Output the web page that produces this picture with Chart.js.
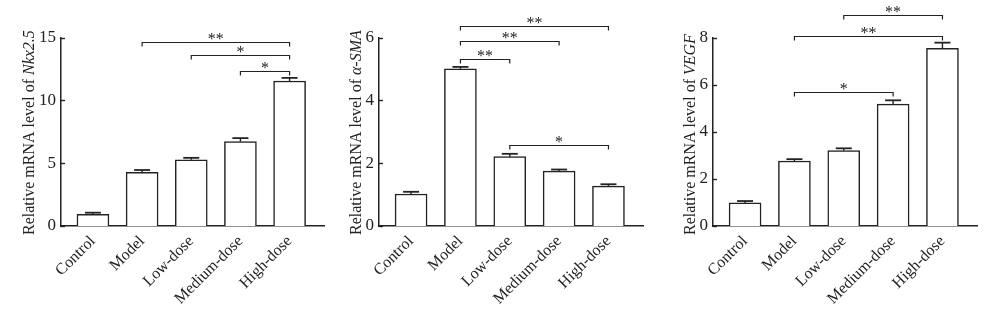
<!DOCTYPE html>
<html><head><meta charset="utf-8">
<script src="https://cdn.jsdelivr.net/npm/chart.js@4/dist/chart.umd.min.js"></script>
<style>
html,body{margin:0;padding:0;background:#fff;width:988px;height:313px;overflow:hidden}
.p{position:absolute;top:0;height:313px}
</style></head><body>
<div class="p" style="left:0;width:330px"><canvas id="c1"></canvas></div>
<div class="p" style="left:330px;width:330px"><canvas id="c2"></canvas></div>
<div class="p" style="left:660px;width:328px"><canvas id="c3"></canvas></div>
<script>
// ---- data ----
const categories = ['Control', 'Model', 'Low-dose', 'Medium-dose', 'High-dose'];

const nkxValues = [0.92, 4.27, 5.27, 6.72, 11.55];
const nkxErrors = [0.14, 0.19, 0.16, 0.28, 0.25];
const nkxTicks = [0, 5, 10, 15];
const nkxBracketFrom = [1, 2, 3];
const nkxBracketTo = [4, 4, 4];
const nkxBracketY = [14.67, 13.6, 12.37];
const nkxBracketLabel = ['**', '*', '*'];

const smaValues = [1.02, 5.01, 2.21, 1.75, 1.27];
const smaErrors = [0.07, 0.06, 0.09, 0.05, 0.06];
const smaTicks = [0, 2, 4, 6];
const smaBracketFrom = [1, 1, 1, 2];
const smaBracketTo = [4, 3, 2, 4];
const smaBracketY = [6.38, 5.88, 5.31, 2.59];
const smaBracketLabel = ['**', '**', '**', '*'];

const vegfValues = [0.98, 2.76, 3.20, 5.18, 7.55];
const vegfErrors = [0.08, 0.08, 0.10, 0.16, 0.24];
const vegfTicks = [0, 2, 4, 6, 8];
const vegfBracketFrom = [2, 1, 1];
const vegfBracketTo = [4, 4, 3];
const vegfBracketY = [8.97, 8.07, 5.68];
const vegfBracketLabel = ['**', '**', '*'];

// ---- style ----
const INK = '#222';
const FONT = '"Liberation Serif", "Times New Roman", serif';

function makePanel(id, values, errors, ticks, bFrom, bTo, bY, bLabel, gene, lay) {
  const decor = {
    id: 'decor',
    afterDatasetsDraw(chart) {
      const ctx = chart.ctx, ys = chart.scales.y, xs = chart.scales.x;
      const meta = chart.getDatasetMeta(0);
      const line = (x1, y1, x2, y2) => { ctx.beginPath(); ctx.moveTo(x1, y1); ctx.lineTo(x2, y2); ctx.stroke(); };
      ctx.save();
      ctx.strokeStyle = INK;
      // error bars
      values.forEach((v, i) => {
        const x = meta.data[i].x;
        const y0 = ys.getPixelForValue(v);
        const y1 = ys.getPixelForValue(v + errors[i]);
        ctx.lineWidth = 1.4;
        line(x, y0, x, y1);
        ctx.lineWidth = 1.8;
        line(x - 8, y1, x + 8, y1);
      });
      // inward y ticks
      ctx.lineWidth = 1.4;
      ticks.forEach(t => {
        const y = Math.round(ys.getPixelForValue(t)) + 0.5;
        line(chart.chartArea.left, y, chart.chartArea.left + 4, y);
      });
      // significance brackets
      ctx.lineWidth = 1.2;
      ctx.fillStyle = INK;
      ctx.font = '16px ' + FONT;
      ctx.textAlign = 'center';
      ctx.textBaseline = 'alphabetic';
      bFrom.forEach((f, i) => {
        const x1 = xs.getPixelForValue(f), x2 = xs.getPixelForValue(bTo[i]);
        const y = Math.round(ys.getPixelForValue(bY[i])) + 0.5;
        ctx.beginPath();
        ctx.moveTo(x1, y + 4); ctx.lineTo(x1, y); ctx.lineTo(x2, y); ctx.lineTo(x2, y + 4);
        ctx.stroke();
        ctx.fillText(bLabel[i], (x1 + x2) / 2, y + 1);
      });
      // y axis title with italic gene name
      ctx.translate(lay.titleX, 235);
      ctx.rotate(-Math.PI / 2);
      ctx.textAlign = 'left';
      ctx.textBaseline = 'middle';
      const prefix = 'Relative mRNA level of ';
      ctx.font = '16px ' + FONT;
      ctx.fillText(prefix, 0, 0);
      const w = ctx.measureText(prefix).width;
      ctx.font = 'italic 16px ' + FONT;
      ctx.fillText(gene, w, 0);
      ctx.restore();
    }
  };

  return new Chart(document.getElementById(id), {
    type: 'bar',
    data: {
      datasets: [{
        data: values.map((v, i) => ({ x: i, y: v })),
        backgroundColor: '#fff',
        borderColor: INK,
        borderWidth: 1.5,
        borderSkipped: 'bottom',
        barThickness: 32
      }]
    },
    options: {
      responsive: true,
      maintainAspectRatio: false,
      animation: false,
      layout: { padding: { left: 0, right: lay.padRight, top: 37.7, bottom: 0 } },
      plugins: { legend: { display: false }, tooltip: { enabled: false } },
      scales: {
        x: {
          type: 'linear',
          offset: false,
          min: -0.65,
          max: 4.7,
          afterFit: s => { s.height = 87; },
          afterBuildTicks: s => { s.ticks = categories.map((_, i) => ({ value: i })); },
          grid: { display: false, drawTicks: false },
          border: { display: true, color: INK, width: 1.5 },
          ticks: {
            autoSkip: false,
            minRotation: 45,
            maxRotation: 45,
            padding: 6,
            labelOffset: 0,
            color: INK,
            font: { family: FONT, size: 16 },
            callback: v => categories[v]
          }
        },
        y: {
          min: 0,
          max: ticks[ticks.length - 1],
          afterFit: s => { s.width = lay.yWidth; },
          afterBuildTicks: s => { s.ticks = ticks.map(t => ({ value: t })); },
          grid: { display: false, drawTicks: false },
          border: { display: true, color: INK, width: 1.5 },
          ticks: {
            padding: 5,
            color: INK,
            font: { family: FONT, size: 17 }
          }
        }
      }
    },
    plugins: [decor]
  });
}

makePanel('c1', nkxValues, nkxErrors, nkxTicks, nkxBracketFrom, nkxBracketTo, nkxBracketY, nkxBracketLabel, 'Nkx2.5',
  { yWidth: 61, padRight: 6, titleX: 30 });
makePanel('c2', smaValues, smaErrors, smaTicks, smaBracketFrom, smaBracketTo, smaBracketY, smaBracketLabel, 'α-SMA',
  { yWidth: 49, padRight: 17, titleX: 27 });
makePanel('c3', vegfValues, vegfErrors, vegfTicks, vegfBracketFrom, vegfBracketTo, vegfBracketY, vegfBracketLabel, 'VEGF',
  { yWidth: 53, padRight: 11, titleX: 31 });
</script>
</body></html>
